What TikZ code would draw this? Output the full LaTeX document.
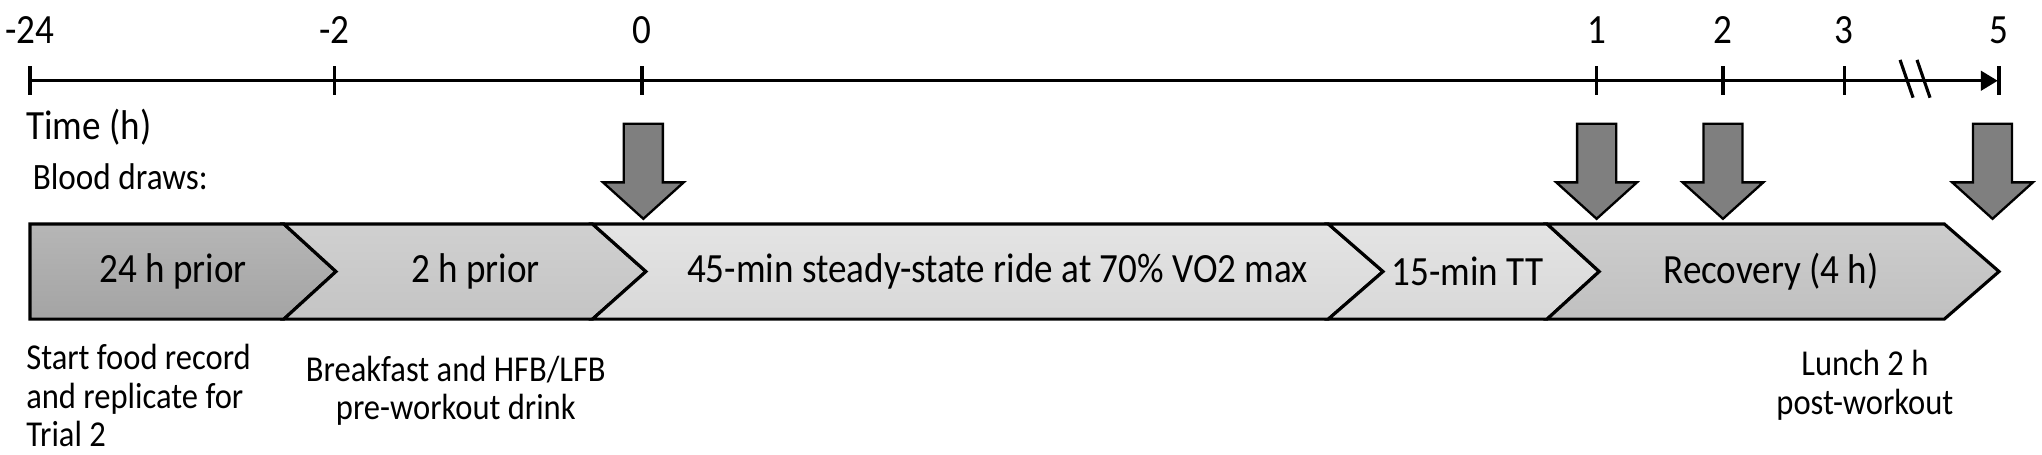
\documentclass[tikz,border=0pt]{standalone}
\usepackage{fontspec}
\setmainfont{Carlito}
\usetikzlibrary{arrows.meta}
\definecolor{boxA}{HTML}{A4A4A4}
\definecolor{boxAt}{HTML}{B6B6B6}
\definecolor{boxB}{HTML}{C4C4C4}
\definecolor{boxBt}{HTML}{D0D0D0}
\definecolor{boxC}{HTML}{D8D8D8}
\definecolor{boxCt}{HTML}{E4E4E4}
\definecolor{boxE}{HTML}{C0C0C0}
\definecolor{boxEt}{HTML}{CDCDCD}
\definecolor{bloodfill}{HTML}{7F7F7F}
\begin{document}
\begin{tikzpicture}[x=1pt,y=-1pt,
  axisline/.style={line width=2.4pt},
  tickline/.style={line width=2.4pt},
  chev/.style={draw=black, line width=2.4pt, line join=miter},
  blood/.style={draw=black, fill=bloodfill, line width=1.8pt, line join=miter},
  ticklab/.style={font=\fontsize{28.5}{30}\selectfont, inner sep=0pt, yscale=1.12},
  boxlab/.style={font=\fontsize{28.5}{30}\selectfont, inner sep=0pt, yscale=1.12},
  note/.style={font=\fontsize{25}{26.5}\selectfont, inner sep=0pt, yscale=1.12},
]
\useasboundingbox (0,0) rectangle (1568,349);
% axis
\coordinate (a0) at (23,62);
\coordinate (aend) at (1534,62);
\draw[axisline, -{Triangle[length=13pt,width=15pt]}] (a0) -- (aend);
\foreach \x/\t [count=\i] in {23/-24,257/-2,493/0,1226/1,1323/2,1416/3,1535/5}{
  \coordinate (tk\i) at (\x,62);
  \draw[tickline] (\x,51) -- (\x,73);
  \node[ticklab] (tl\i) at (\x,23) {\t};
}
% break marks
\draw[line width=2.4pt] (1459,46) -- (1469,75);
\draw[line width=2.4pt] (1472,46) -- (1482,75);
% side labels
\node[ticklab, anchor=west] (time) at (20,98) {Time (h)};
\node[font=\fontsize{25.5}{30}\selectfont, inner sep=0pt, yscale=1.12, anchor=west] (blood) at (25,136) {Blood draws:};
% chevrons
\def\ty{172}\def\by{245}\def\my{208.5}
\path[chev, top color=boxAt, bottom color=boxA] (23,\ty) -- (218,\ty) -- (258,\my) -- (218,\by) -- (23,\by) -- cycle;
\path[chev, top color=boxBt, bottom color=boxB] (218,\ty) -- (455,\ty) -- (496,\my) -- (455,\by) -- (218,\by) -- (258,\my) -- cycle;
\path[chev, top color=boxCt, bottom color=boxC] (455,\ty) -- (1020,\ty) -- (1062,\my) -- (1020,\by) -- (455,\by) -- (496,\my) -- cycle;
\path[chev, top color=boxCt, bottom color=boxC] (1020,\ty) -- (1188,\ty) -- (1228,\my) -- (1188,\by) -- (1020,\by) -- (1062,\my) -- cycle;
\path[chev, top color=boxEt, bottom color=boxE] (1188,\ty) -- (1493,\ty) -- (1535,\my) -- (1493,\by) -- (1188,\by) -- (1228,\my) -- cycle;
\node[boxlab] (b1) at (133,\my) {24 h prior};
\node[boxlab] (b2) at (365,\my) {2 h prior};
\node[boxlab] (b3) at (766,\my) {45-min steady-state ride at 70\% VO2 max};
\node[boxlab] (b4) at (1127,\my) {15-min TT};
\node[boxlab] (b5) at (1360,\my) {Recovery (4 h)};
% blood draw arrows
\foreach \c in {494,1226,1323,1530}{
  \draw[blood] (\c-15,95) -- (\c+15,95) -- (\c+15,140) -- (\c+31,140) -- (\c,168) -- (\c-31,140) -- (\c-15,140) -- cycle;
}
% notes
\node[note, anchor=north west, align=left] (n1) at (20,264) {Start food record\\and replicate for\\Trial 2};
\node[note, anchor=north, align=center] (n2) at (350,273) {Breakfast and HFB/LFB\\pre-workout drink};
\node[note, anchor=north, align=center] (n3) at (1432,269) {Lunch 2 h\\post-workout};
\end{tikzpicture}
\end{document}
